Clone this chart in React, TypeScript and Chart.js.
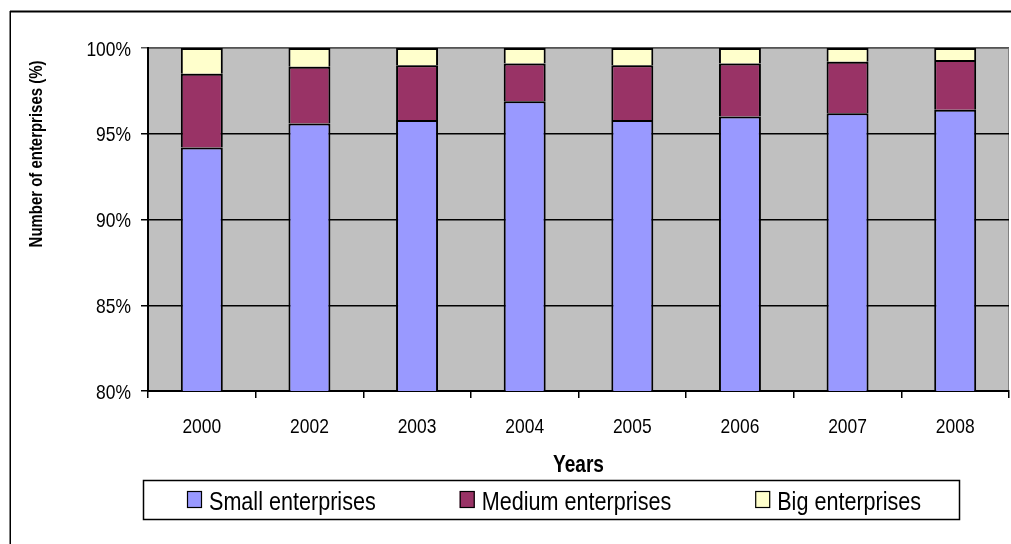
import React, { useEffect, useRef } from 'react';
import { Chart, registerables } from 'chart.js';

Chart.register(...registerables);

const years = ['2000', '2002', '2003', '2004', '2005', '2006', '2007', '2008'];
const smallEnterprises = [94.2, 95.6, 95.8, 96.9, 95.8, 96.0, 96.2, 96.4];
const mediumEnterprises = [4.3, 3.3, 3.2, 2.2, 3.2, 3.1, 3.0, 2.9];
const bigEnterprises = [1.5, 1.1, 1.0, 0.9, 1.0, 0.9, 0.8, 0.7];
const seriesNames = ['Small enterprises', 'Medium enterprises', 'Big enterprises'];
const seriesColors = ['#9999FF', '#993366', '#FFFFCC'];
const yTickValues = [80, 85, 90, 95, 100];
const yTickLabels = ['80%', '85%', '90%', '95%', '100%'];
const xTitleText = 'Years';
const yTitleText = 'Number of enterprises (%)';

const FAMILY = '"Liberation Sans", Arial, sans-serif';
const SX = 0.83; // horizontal compression, Arial Narrow look

function drawText(
  ctx: CanvasRenderingContext2D,
  text: string,
  x: number,
  y: number,
  font: string,
  align: CanvasTextAlign,
  rotate = 0
) {
  ctx.save();
  ctx.translate(x, y);
  if (rotate) ctx.rotate(rotate);
  ctx.scale(SX, 1);
  ctx.font = font;
  ctx.textAlign = align;
  ctx.textBaseline = 'alphabetic';
  ctx.fillStyle = '#000';
  ctx.fillText(text, 0, 0);
  ctx.restore();
}

export default function App() {
  const ref = useRef<HTMLCanvasElement | null>(null);

  useEffect(() => {
    if (!ref.current) return;

    const bgPlugin = {
      id: 'plotBg',
      beforeDraw(chart: any) {
        const { ctx, chartArea } = chart;
        ctx.save();
        ctx.fillStyle = '#C0C0C0';
        ctx.fillRect(chartArea.left, chartArea.top, chartArea.right - chartArea.left, chartArea.bottom - chartArea.top);
        ctx.strokeStyle = '#808080';
        ctx.lineWidth = 1;
        ctx.beginPath();
        ctx.moveTo(chartArea.left, chartArea.top + 0.5);
        ctx.lineTo(chartArea.right - 0.5, chartArea.top + 0.5);
        ctx.lineTo(chartArea.right - 0.5, chartArea.bottom);
        ctx.stroke();
        ctx.restore();
      },
    };

    const textPlugin = {
      id: 'texts',
      afterDraw(chart: any) {
        const { ctx, chartArea } = chart;
        const xs = chart.scales.x;
        const ys = chart.scales.y;
        ctx.save();
        // outer frame
        ctx.fillStyle = '#000';
        ctx.fillRect(10, 10.5, 1011, 2);
        ctx.fillRect(9.5, 11, 1.5, 600);

        // x tick labels
        const tickFont = `21px ${FAMILY}`;
        (chart.data.labels as string[]).forEach((lab, i) => {
          drawText(ctx, lab, xs.getPixelForTick(i), chartArea.bottom + 41.5, tickFont, 'center');
        });
        // y tick labels
        yTickValues.forEach((v, i) => {
          drawText(ctx, yTickLabels[i], chartArea.left - 17, ys.getPixelForValue(v) + 7.5, tickFont, 'right');
        });
        // axis titles
        drawText(ctx, xTitleText, (chartArea.left + chartArea.right) / 2, 471.5, `bold 23px ${FAMILY}`, 'center');
        drawText(ctx, yTitleText, 41.5, 154, `bold 18px ${FAMILY}`, 'center', -Math.PI / 2);

        // legend
        ctx.lineWidth = 1.5;
        ctx.strokeStyle = '#000';
        ctx.strokeRect(143.5, 480.5, 816, 39);
        const legFont = `26px ${FAMILY}`;
        let x = 187;
        chart.data.datasets.forEach((ds: any) => {
          ctx.fillStyle = ds.backgroundColor;
          ctx.fillRect(x, 491, 15, 17);
          ctx.lineWidth = 1.2;
          ctx.strokeStyle = '#000';
          ctx.strokeRect(x + 0.5, 491.5, 14, 16);
          drawText(ctx, ds.label, x + 22, 510, legFont, 'left');
          ctx.save();
          ctx.font = legFont;
          const w = ctx.measureText(ds.label).width * SX;
          ctx.restore();
          x += 22 + w + 84;
        });
        ctx.restore();
      },
    };

    const series = [smallEnterprises, mediumEnterprises, bigEnterprises];
    const chart = new Chart(ref.current, {
      type: 'bar',
      data: {
        labels: years,
        datasets: series.map((d, i) => ({
          label: seriesNames[i],
          data: d,
          backgroundColor: seriesColors[i],
          borderColor: '#000',
          borderWidth: 2,
          categoryPercentage: 1,
          barPercentage: 0.39,
        })),
      },
      options: {
        animation: false,
        responsive: true,
        maintainAspectRatio: false,
        layout: { padding: { left: 48, top: 48, right: 2, bottom: 64 } },
        plugins: { legend: { display: false }, tooltip: { enabled: false }, title: { display: false } },
        scales: {
          x: {
            stacked: true,
            grid: { display: true, drawOnChartArea: false, drawTicks: true, tickLength: 7, color: '#000', offset: true, lineWidth: 1.5 },
            border: { display: true, color: '#000', width: 2 },
            ticks: { display: false, autoSkip: false },
            title: { display: false },
            afterFit: (s: any) => {
              s.height = 89;
            },
          },
          y: {
            stacked: true,
            min: 80,
            max: 100,
            afterBuildTicks: (s: any) => {
              s.ticks = yTickValues.map((v) => ({ value: v }));
            },
            ticks: { display: false },
            grid: {
              color: (c: any) => (c.tick && c.tick.value === 100 ? '#555' : '#000'),
              tickLength: 7,
              lineWidth: 1.5,
            },
            border: { display: true, color: '#000', width: 2 },
            afterFit: (s: any) => {
              s.width = 100;
            },
          },
        },
      } as any,
      plugins: [bgPlugin, textPlugin],
    });
    return () => chart.destroy();
  }, []);

  return (
    <div style={{ position: 'absolute', left: 0, top: 0, width: 1011, height: 544, background: '#fff' }}>
      <canvas ref={ref} />
    </div>
  );
}
